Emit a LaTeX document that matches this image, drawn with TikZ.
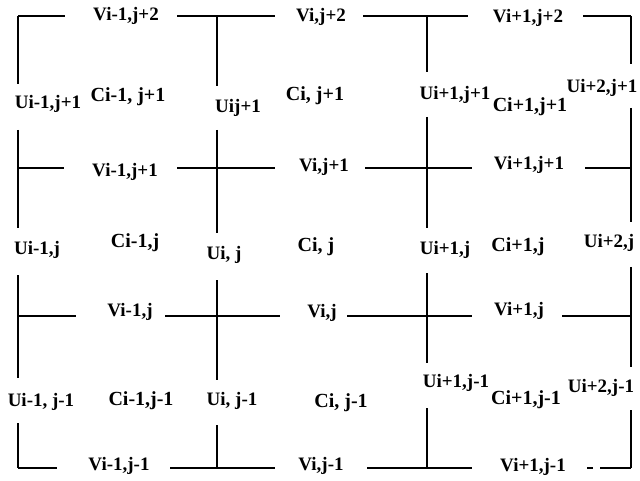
\documentclass[tikz,border=0pt]{standalone}
\usepackage{fontspec}
\setmainfont{Liberation Serif}
\begin{document}
\begin{tikzpicture}[x=1pt,y=-1pt,
  lab/.style={inner sep=0pt,font=\fontsize{19}{21}\selectfont\bfseries},
  clab/.style={inner sep=0pt,font=\fontsize{20}{22}\selectfont\bfseries},
  grid/.style={line width=1.8pt}]
\useasboundingbox[fill=white] (0,0) rectangle (640,481);
% horizontal grid lines
\draw[grid] (18,16) -- (65,16) (177,16) -- (275,16) (363,16) -- (468,16) (583,16) -- (631,16);
\draw[grid] (18,168) -- (64,168) (177,168) -- (275,168) (365,168) -- (472,168) (585,168) -- (631,168);
\draw[grid] (18,316) -- (76,316) (165,316) -- (280,316) (347,316) -- (472,316) (562,316) -- (631,316);
\draw[grid] (18,468) -- (57,468) (170,468) -- (275,468) (367,468) -- (472,468) (587,468) -- (593,468) (600,468) -- (631,468);
% vertical grid lines
\draw[grid] (18,16) -- (18,84) (18,130) -- (18,228) (18,275) -- (18,378) (18,423) -- (18,468);
\draw[grid] (217,16) -- (217,86) (217,130) -- (217,233) (217,280) -- (217,380) (217,425) -- (217,468);
\draw[grid] (427,16) -- (427,72) (427,117) -- (427,228) (427,273) -- (427,363) (427,408) -- (427,468);
\draw[grid] (631,16) -- (631,64) (631,108) -- (631,222) (631,267) -- (631,367) (631,410) -- (631,468);
% V labels
\node[lab] (v11) at (126,16) {Vi-1,j+2};
\node[lab] (v12) at (321,17) {Vi,j+2};
\node[lab] (v13) at (528,18) {Vi+1,j+2};
\node[lab] (v21) at (125,172) {Vi-1,j+1};
\node[lab] (v22) at (324,167) {Vi,j+1};
\node[lab] (v23) at (529,165) {Vi+1,j+1};
\node[lab] (v31) at (130,312) {Vi-1,j};
\node[lab] (v32) at (322,313) {Vi,j};
\node[lab] (v33) at (519,311) {Vi+1,j};
\node[lab] (v41) at (119,466) {Vi-1,j-1};
\node[lab] (v42) at (321,466) {Vi,j-1};
\node[lab] (v43) at (533,467) {Vi+1,j-1};
% U labels
\node[lab] (u11) at (48,104) {Ui-1,j+1};
\node[lab] (u12) at (238,108) {Uij+1};
\node[lab] (u13) at (455,95) {Ui+1,j+1};
\node[lab] (u14) at (602,88) {Ui+2,j+1};
\node[lab] (u21) at (37,250) {Ui-1,j};
\node[lab] (u22) at (224,255) {Ui, j};
\node[lab] (u23) at (445,250) {Ui+1,j};
\node[lab] (u24) at (609,243) {Ui+2,j};
\node[lab] (u31) at (41,402) {Ui-1, j-1};
\node[lab] (u32) at (232,401) {Ui, j-1};
\node[lab] (u33) at (456,383) {Ui+1,j-1};
\node[lab] (u34) at (601,388) {Ui+2,j-1};
% C labels
\node[clab] (c11) at (128,97) {Ci-1, j+1};
\node[clab] (c12) at (315,96) {Ci, j+1};
\node[clab] (c13) at (530,107) {Ci+1,j+1};
\node[clab] (c21) at (135,243) {Ci-1,j};
\node[clab] (c22) at (316,247) {Ci, j};
\node[clab] (c23) at (518,247) {Ci+1,j};
\node[clab] (c31) at (141,401) {Ci-1,j-1};
\node[clab] (c32) at (341,403) {Ci, j-1};
\node[clab] (c33) at (526,400) {Ci+1,j-1};
\end{tikzpicture}
\end{document}
